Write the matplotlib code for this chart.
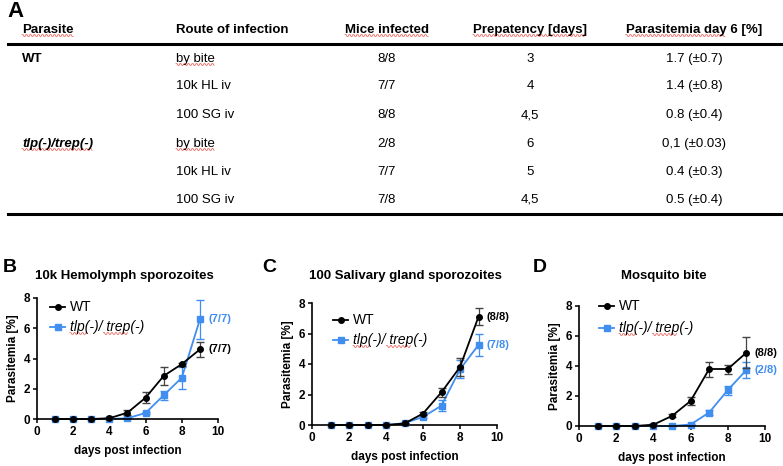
import numpy as np
import matplotlib
matplotlib.use("Agg")
import matplotlib.pyplot as plt

plt.rcParams['font.family'] = ['Liberation Sans', 'DejaVu Sans']

W, H = 783, 466
blue = "#3f8ef0"

# table data
col_headers = ["Parasite", "Route of infection", "Mice infected", "Prepatency [days]", "Parasitemia day 6 [%]"]
parasites = ["WT", "", "", "tlp(-)/trep(-)", "", ""]
routes = ["by bite", "10k HL iv", "100 SG iv", "by bite", "10k HL iv", "100 SG iv"]
mice_infected = ["8/8", "7/7", "8/8", "2/8", "7/7", "7/8"]
prepatency = ["3", "4", "4,5", "6", "5", "4,5"]
parasitemia_d6 = ["1.7 (\u00b10.7)", "1.4 (\u00b10.8)", "0.8 (\u00b10.4)", "0,1 (\u00b10.03)", "0.4 (\u00b10.3)", "0.5 (\u00b10.4)"]

# curve data
days = [1, 2, 3, 4, 5, 6, 7, 8, 9]
hl_wt = [0, 0, 0, 0.05, 0.42, 1.41, 2.85, 3.63, 4.6]
hl_wt_err = [0, 0, 0, 0.02, 0.15, 0.35, 0.6, 0.1, 0.5]
hl_ko = [0, 0, 0, 0, 0.05, 0.4, 1.57, 2.73, 6.58]
hl_ko_err = [0, 0, 0, 0, 0.03, 0.05, 0.3, 0.72, 1.27]

sg_wt = [0, 0, 0, 0, 0.1, 0.75, 2.15, 3.8, 7.1]
sg_wt_err = [0, 0, 0, 0, 0.03, 0.1, 0.3, 0.6, 0.55]
sg_ko = [0, 0, 0, 0, 0.12, 0.53, 1.27, 3.65, 5.25]
sg_ko_err = [0, 0, 0, 0, 0.03, 0.1, 0.35, 0.6, 0.7]

bite_wt = [0, 0, 0, 0.09, 0.67, 1.67, 3.8, 3.8, 4.89]
bite_wt_err = [0, 0, 0, 0.03, 0.1, 0.25, 0.5, 0.3, 1.05]
bite_ko = [0, 0, 0, 0, 0, 0.1, 0.9, 2.4, 3.73]
bite_ko_err = [0, 0, 0, 0, 0, 0.03, 0.15, 0.3, 0.55]

panels = [
    ("B", "10k Hemolymph sporozoites", hl_wt, hl_wt_err, hl_ko, hl_ko_err, "(7/7)", "(7/7)"),
    ("C", "100 Salivary gland sporozoites", sg_wt, sg_wt_err, sg_ko, sg_ko_err, "(8/8)", "(7/8)"),
    ("D", "Mosquito bite", bite_wt, bite_wt_err, bite_ko, bite_ko_err, "(8/8)", "(2/8)"),
]


def px(x, y):
    return x / W, 1 - y / H


fig = plt.figure(figsize=(W / 100, H / 100), dpi=100)
squiggles = []  # (text artist, start fraction, end fraction)

######################################################################
# Panel A: table
fig.text(*px(7, 17), "A", fontsize=16, fontweight='bold', va='baseline', ha='left')
col_x = [22, 176, 387, 530, 694]
col_ha = ['left', 'left', 'center', 'center', 'center']
hdr = []
for x, ha, label in zip(col_x, col_ha, col_headers):
    hdr.append(fig.text(*px(x, 30), label, fontsize=9.5, fontweight='bold', ha=ha, va='center'))
squiggles += [(hdr[0], 0, 1), (hdr[2], 0, 1), (hdr[3], 0, 1), (hdr[4], 0, 0.73)]

fig.add_artist(plt.Line2D([8 / W, 781 / W], [1 - 43.5 / H] * 2, color='black', lw=2.2))
fig.add_artist(plt.Line2D([8 / W, 781 / W], [1 - 213.5 / H] * 2, color='black', lw=2.2))

row_y = [59, 86, 115, 144, 172, 200]
for i, y in enumerate(row_y):
    if parasites[i]:
        t = fig.text(*px(22, y), parasites[i], fontsize=9.5, fontweight='bold',
                     style='italic' if parasites[i] != "WT" else 'normal', ha='left', va='center')
        if parasites[i] != "WT":
            squiggles.append((t, 0, 1))
    t = fig.text(*px(176, y), routes[i], fontsize=9.5, ha='left', va='center')
    if routes[i] == "by bite":
        squiggles.append((t, 0, 1))
    fig.text(*px(387, y), mice_infected[i], fontsize=9.5, ha='center', va='center')
    fig.text(*px(530, y), prepatency[i], fontsize=9.5, ha='center', va='center')
    fig.text(*px(694, y), parasitemia_d6[i], fontsize=9.5, ha='center', va='center')

######################################################################
# Panels B-D: parasitemia curves
axes_px = [(37, 298, 218, 419), (312, 303, 497, 425), (579, 306, 765, 426)]
letter_px = [(3, 268), (262, 268), (533, 268)]
title_px = [(124, 276), (405, 276), (664, 276)]
legend_px = [(50, 307, 327), (333, 320, 340), (599, 306, 328)]

for (letter, title, wt, wt_err, ko, ko_err, wt_n, ko_n), (x0, y0, x1, y1), lp, tp, lg in zip(
        panels, axes_px, letter_px, title_px, legend_px):
    ax = fig.add_axes([x0 / W, 1 - y1 / H, (x1 - x0) / W, (y1 - y0) / H])
    ax.errorbar(days, wt, yerr=wt_err, color='black', marker='o', ms=4, lw=1.3,
                capsize=3, elinewidth=0.9, ecolor='#444444', zorder=3, clip_on=False)
    ax.errorbar(days, ko, yerr=ko_err, color=blue, marker='s', ms=4, lw=1.3,
                capsize=3, elinewidth=0.9, zorder=2, clip_on=False)
    ax.set_xlim(0, 10)
    ax.set_ylim(0, 8)
    ax.set_xticks([0, 2, 4, 6, 8, 10])
    ax.set_yticks([0, 2, 4, 6, 8])
    for s in ['top', 'right']:
        ax.spines[s].set_visible(False)
    for s in ['left', 'bottom']:
        ax.spines[s].set_linewidth(1.2)
    ax.tick_params(direction='out', length=3, width=1.1, labelsize=8.5, pad=2)
    for t in ax.get_xticklabels() + ax.get_yticklabels():
        t.set_fontweight('bold')
    ax.set_xlabel("days post infection", fontsize=8.5, fontweight='bold', labelpad=5)
    ax.set_ylabel("Parasitemia [%]", fontsize=8.5, fontweight='bold', labelpad=3)

    # end labels
    ax.annotate(wt_n, (days[-1], wt[-1]), xytext=(6, 0), textcoords='offset points',
                fontsize=8, fontweight='bold', color='black', va='center')
    ax.annotate(ko_n, (days[-1], ko[-1]), xytext=(6, 0), textcoords='offset points',
                fontsize=8, fontweight='bold', color=blue, va='center')

    # legend
    lx, ly_wt, ly_ko = lg
    for ly, col, mk, lab, st in [(ly_wt, 'black', 'o', "WT", 'normal'),
                                 (ly_ko, blue, 's', "tlp(-)/ trep(-)", 'italic')]:
        fig.add_artist(plt.Line2D([lx / W, (lx + 15) / W], [1 - ly / H] * 2, color=col, lw=1.3))
        fig.add_artist(plt.Line2D([(lx + 7.5) / W], [1 - ly / H], color=col, marker=mk, ms=4))
        t = fig.text(*px(lx + 20, ly), lab, fontsize=10, style=st, color='black', va='center', ha='left')
        if st == 'italic':
            squiggles += [(t, 0.0, 0.22), (t, 0.45, 0.78)]

    fig.text(*px(*lp), letter, fontsize=14, fontweight='bold', ha='left', va='center')
    fig.text(*px(*tp), title, fontsize=9.5, fontweight='bold', ha='center', va='center')

# red spell-check wavy underlines
fig.canvas.draw()
renderer = fig.canvas.get_renderer()
for t, f0, f1 in squiggles:
    bb = t.get_window_extent(renderer)
    xa = bb.x0 + f0 * bb.width
    xb = bb.x0 + f1 * bb.width
    xs = np.arange(xa, xb, 1.0)
    ys = bb.y0 + 0.5 + 0.9 * np.where((np.arange(len(xs)) // 2) % 2 == 0, 1, -1)
    fig.add_artist(plt.Line2D(xs / W, ys / H, color='#e8443a', lw=0.6, alpha=0.8))

fig.savefig("out.png", dpi=100)
